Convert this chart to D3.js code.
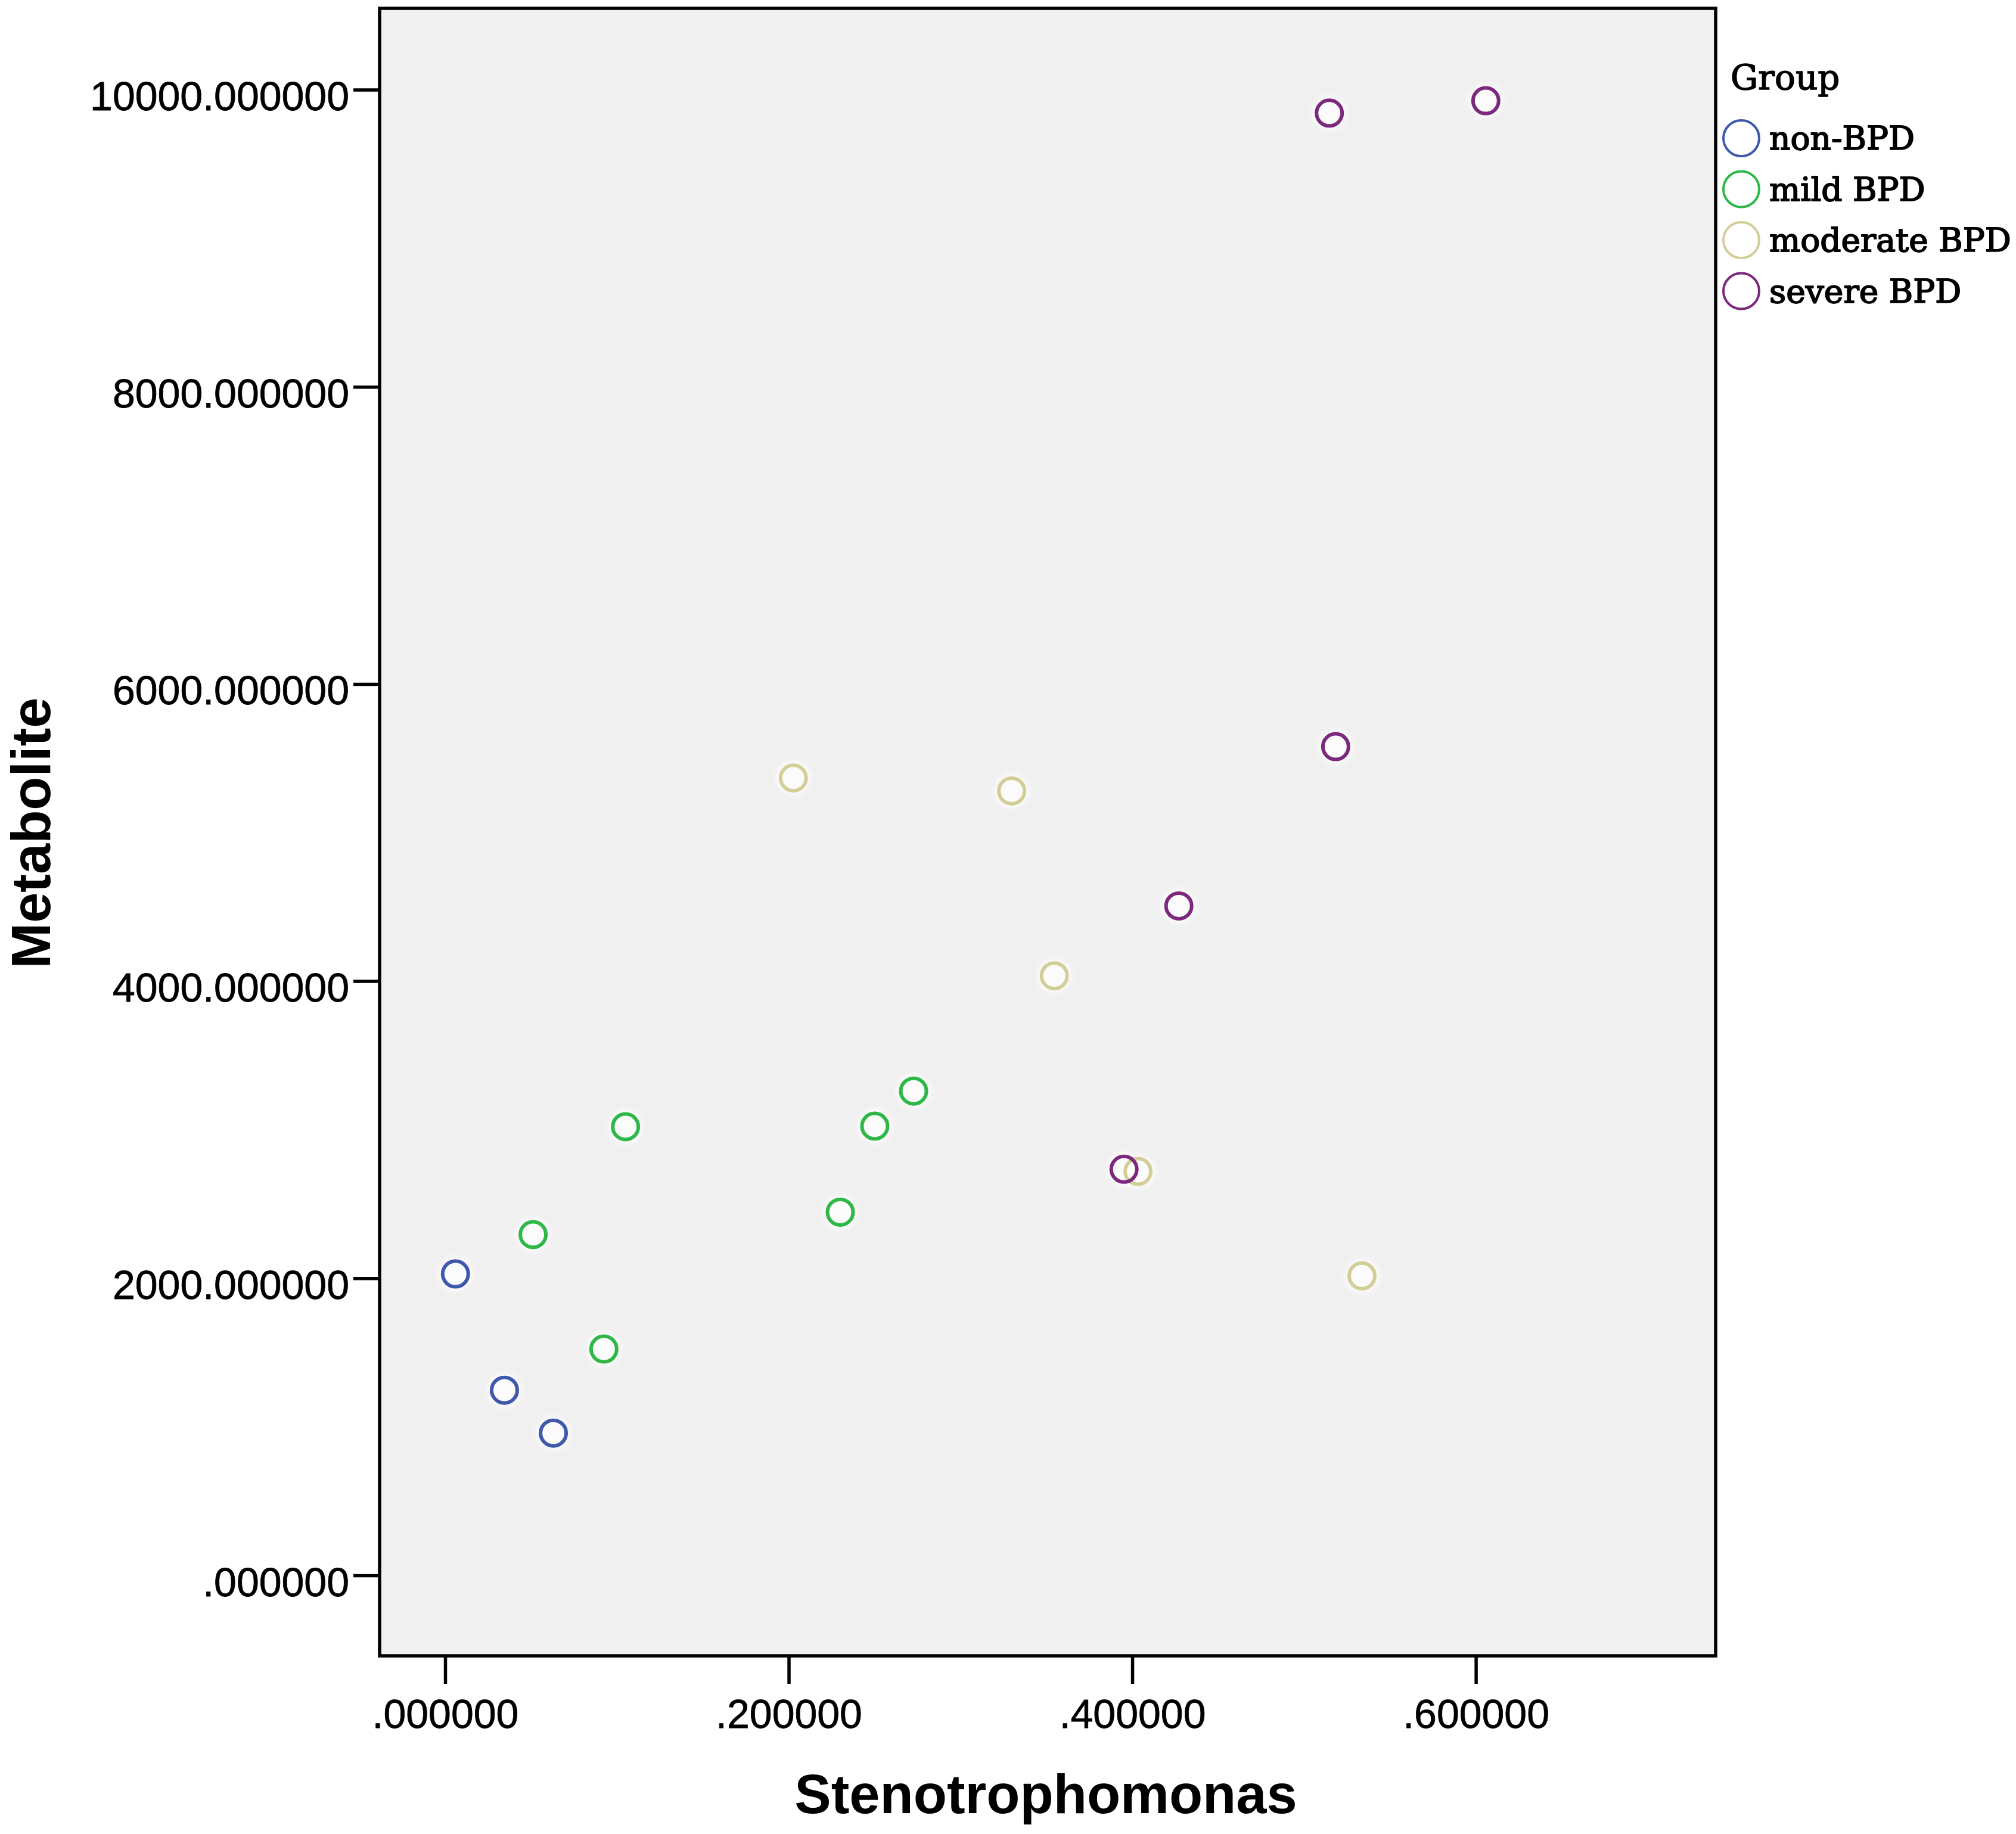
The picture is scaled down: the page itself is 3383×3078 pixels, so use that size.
<!DOCTYPE html>
<html>
<head>
<meta charset="utf-8">
<script src="https://cdn.jsdelivr.net/npm/d3@7"></script>
<style>
  html, body { margin: 0; padding: 0; background: #ffffff; }
  svg { display: block; }
</style>
</head>
<body>
<svg id="chart" width="3383" height="3078"></svg>
<script>
// ---- data ----
const groups = ["non-BPD", "mild BPD", "moderate BPD", "severe BPD"];
const groupColors = ["#3E58AC", "#2EB848", "#D3CE97", "#7C287D"];

const nonBPD_x   = [0.0060, 0.0345, 0.0630];
const nonBPD_y   = [2029, 1247, 958];
const mildBPD_x  = [0.0512, 0.0924, 0.1050, 0.2300, 0.2501, 0.2727];
const mildBPD_y  = [2294, 1524, 3020, 2445, 3024, 3260];
const moderateBPD_x = [0.2027, 0.3298, 0.3546, 0.4033, 0.5337];
const moderateBPD_y = [5367, 5280, 4036, 2719, 2016];
const severeBPD_x = [0.5184, 0.4271, 0.3952, 0.5147, 0.6058];
const severeBPD_y = [5578, 4506, 2734, 9842, 9925];

const xTicks = [0, 0.2, 0.4, 0.6];
const yTicks = [0, 2000, 4000, 6000, 8000, 10000];
const xTitle = "Stenotrophomonas";
const yTitle = "Metabolite";
const legendTitle = "Group";

const series = [
  {name: groups[0], xs: nonBPD_x, ys: nonBPD_y},
  {name: groups[1], xs: mildBPD_x, ys: mildBPD_y},
  {name: groups[2], xs: moderateBPD_x, ys: moderateBPD_y},
  {name: groups[3], xs: severeBPD_x, ys: severeBPD_y}
];

// ---- layout ----
const plot = {left: 637, right: 2879, top: 14, bottom: 2779};
const svg = d3.select("#chart");

const x = d3.scaleLinear().domain([-0.03816, 0.7396]).range([plot.left, plot.right]);
const y = d3.scaleLinear().domain([-541, 10547]).range([plot.bottom, plot.top]);
const color = d3.scaleOrdinal().domain(groups).range(groupColors);

const defs = svg.append("defs");
const blur = defs.append("filter").attr("id", "halo").attr("x", "-50%").attr("y", "-50%").attr("width", "200%").attr("height", "200%");
blur.append("feGaussianBlur").attr("stdDeviation", 4);

// plot background
svg.append("rect")
  .attr("x", plot.left).attr("y", plot.top)
  .attr("width", plot.right - plot.left).attr("height", plot.bottom - plot.top)
  .attr("fill", "#F0F0F0");

// points
const pts = [];
series.forEach(s => s.xs.forEach((v, i) => pts.push({g: s.name, x: v, y: s.ys[i]})));

const ptG = svg.append("g");
ptG.selectAll("circle.halo").data(pts).enter().append("circle")
  .attr("class", "halo")
  .attr("cx", d => x(d.x)).attr("cy", d => y(d.y)).attr("r", 29)
  .attr("fill", "#ffffff").attr("opacity", 0.75)
  .attr("filter", "url(#halo)");
ptG.selectAll("circle.pt").data(pts).enter().append("circle")
  .attr("class", "pt")
  .attr("cx", d => x(d.x)).attr("cy", d => y(d.y)).attr("r", 21.5)
  .attr("fill", "none")
  .attr("stroke", d => color(d.g))
  .attr("stroke-width", 6);

// frame
svg.append("rect")
  .attr("x", plot.left).attr("y", plot.top)
  .attr("width", plot.right - plot.left).attr("height", plot.bottom - plot.top)
  .attr("fill", "none").attr("stroke", "#000").attr("stroke-width", 5.5);

// axes
const fmt = v => v === 0 ? ".000000" : (v < 1 ? v.toFixed(6).replace(/^0/, "") : v.toFixed(6));

const yAxis = svg.append("g")
  .attr("transform", `translate(${plot.left},0)`)
  .call(d3.axisLeft(y).tickValues(yTicks).tickFormat(fmt).tickSizeInner(44).tickSizeOuter(0).tickPadding(7));
yAxis.select(".domain").remove();
yAxis.selectAll(".tick line").attr("stroke", "#000").attr("stroke-width", 5.5);
yAxis.selectAll(".tick text")
  .attr("font-family", "'Liberation Sans', Arial, sans-serif")
  .attr("font-size", 68).attr("fill", "#000").attr("dy", "0.5em")
  .attr("stroke", "#000").attr("stroke-width", 0.8);

const xAxis = svg.append("g")
  .attr("transform", `translate(0,${plot.bottom})`)
  .call(d3.axisBottom(x).tickValues(xTicks).tickFormat(fmt).tickSizeInner(47).tickSizeOuter(0).tickPadding(26));
xAxis.select(".domain").remove();
xAxis.selectAll(".tick line").attr("stroke", "#000").attr("stroke-width", 5.5);
xAxis.selectAll(".tick text")
  .attr("font-family", "'Liberation Sans', Arial, sans-serif")
  .attr("font-size", 68).attr("fill", "#000")
  .attr("stroke", "#000").attr("stroke-width", 0.8);

// axis titles
svg.append("text")
  .attr("x", 1755).attr("y", 3043)
  .attr("text-anchor", "middle")
  .attr("font-family", "'Liberation Sans', Arial, sans-serif")
  .attr("font-weight", "bold").attr("font-size", 92)
  .attr("fill", "#000")
  .text(xTitle);

svg.append("text")
  .attr("transform", "translate(84,1398) rotate(-90)")
  .attr("text-anchor", "middle")
  .attr("font-family", "'Liberation Sans', Arial, sans-serif")
  .attr("font-weight", "bold").attr("font-size", 92)
  .attr("fill", "#000")
  .text(yTitle);

// legend
const lg = svg.append("g");
lg.append("text")
  .attr("x", 2904).attr("y", 150)
  .attr("font-family", "'DejaVu Serif', serif")
  .attr("font-size", 58).attr("fill", "#000")
  .attr("stroke", "#000").attr("stroke-width", 1.5)
  .text(legendTitle);

const item = lg.selectAll("g.item").data(groups).enter().append("g")
  .attr("class", "item")
  .attr("transform", (d, i) => `translate(2922,${232 + i * 85.5})`);
item.append("circle")
  .attr("r", 30).attr("fill", "none")
  .attr("stroke", d => color(d)).attr("stroke-width", 4);
item.append("text")
  .attr("x", 47).attr("y", 19)
  .attr("font-family", "'DejaVu Serif', serif")
  .attr("font-size", 55).attr("fill", "#000")
  .attr("stroke", "#000").attr("stroke-width", 1.8)
  .text(d => d);
</script>
</body>
</html>
